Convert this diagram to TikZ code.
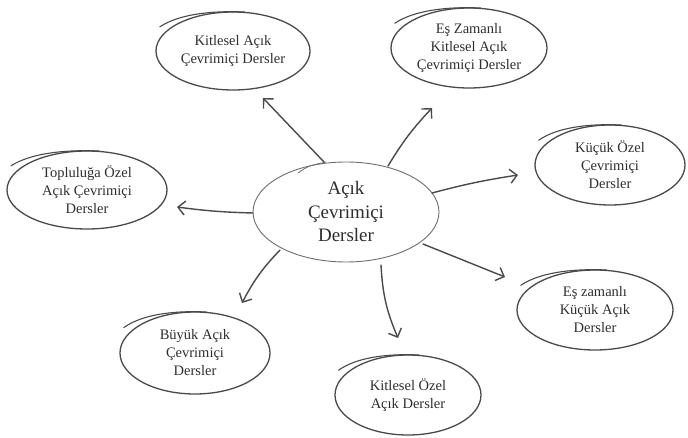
\documentclass[tikz,border=0pt]{standalone}
\usepackage{fontspec}
\setmainfont{Liberation Serif}
\usetikzlibrary{shapes.geometric,arrows.meta,calc}
\definecolor{ink}{HTML}{4A4A4A}
\definecolor{txt}{HTML}{2E2E2E}
\begin{document}
\begin{tikzpicture}[x=1pt,y=-1pt,
  bub/.style={ellipse,draw=ink,line width=1.3pt,inner sep=0pt,align=center,text=txt,
    font=\fontsize{14.5}{18}\selectfont},
  hub/.style={ellipse,draw=ink!80,line width=0.9pt,inner sep=0pt,align=center,text=txt,
    fill=white,font=\fontsize{19}{23.5}\selectfont},
  arr/.style={draw=ink,line width=1.4pt,line cap=round,
    -{Straight Barb[length=7pt,width=14pt,line width=1.4pt]}},
  over/.style={draw=ink,line width=1.1pt,line cap=round}]
\useasboundingbox (0,0) rectangle (688,438);
% nodes
\node[hub,minimum width=186pt,minimum height=100pt] (c) at (346,212) {Açık\\Çevrimiçi\\Dersler};
\node[bub,minimum width=154pt,minimum height=78pt] (a) at (233,51) {Kitlesel Açık\\Çevrimiçi Dersler};
\node[bub,minimum width=156pt,minimum height=80pt] (b) at (469,48) {Eş Zamanlı\\Kitlesel Açık\\Çevrimiçi Dersler};
\node[bub,minimum width=150pt,minimum height=80pt] (k) at (610,165) {Küçük Özel\\Çevrimiçi\\Dersler};
\node[bub,minimum width=160pt,minimum height=78pt] (t) at (87,190) {Topluluğa Özel\\Açık Çevrimiçi\\Dersler};
\node[bub,minimum width=156pt,minimum height=80pt] (e) at (595,310) {Eş zamanlı\\Küçük Açık\\Dersler};
\node[bub,minimum width=150pt,minimum height=82pt] (u) at (195,353) {Büyük Açık\\Çevrimiçi\\Dersler};
\node[bub,minimum width=146pt,minimum height=80pt] (o) at (408,395) {Kitlesel Özel\\Açık Dersler};
% sketchy overshoot strokes
\foreach \n/\rx/\ry in {a/77/39,b/78/40,k/75/40,t/80/39,e/78/40,u/75/41,o/73/40}{
  \draw[over] ($(\n)+(-0.95*\rx,-0.62*\ry)$)
    .. controls ($(\n)+(-0.72*\rx,-0.92*\ry)$) and ($(\n)+(-0.33*\rx,-1.04*\ry)$)
    .. ($(\n)+(0.15*\rx,-1.0*\ry)$);
}
\draw[over,draw=ink!80,line width=0.8pt] ($(c)+(-48,-39)$)
  .. controls ($(c)+(-38,-46)$) .. ($(c)+(-20,-50)$);
% arrows
\draw[arr] ($(c)+(-22,-50)$) -- ($(a)+(30,47)$);
\draw[arr] ($(c)+(42,-46)$) to[bend left=6] ($(b)+(-37,60)$);
\draw[arr] ($(c)+(86,-19)$) to[bend left=3] ($(k)+(-92,10)$);
\draw[arr] ($(c)+(-93,1)$) to[bend left=3] ($(t)+(90,17)$);
\draw[arr] ($(c)+(-66,38)$) to[bend right=8] ($(u)+(47,-50)$);
\draw[arr] ($(c)+(35,53)$) to[bend right=10] ($(o)+(-10,-57)$);
\draw[arr] ($(c)+(77,32)$) -- ($(e)+(-90,-33)$);
\end{tikzpicture}
\end{document}
